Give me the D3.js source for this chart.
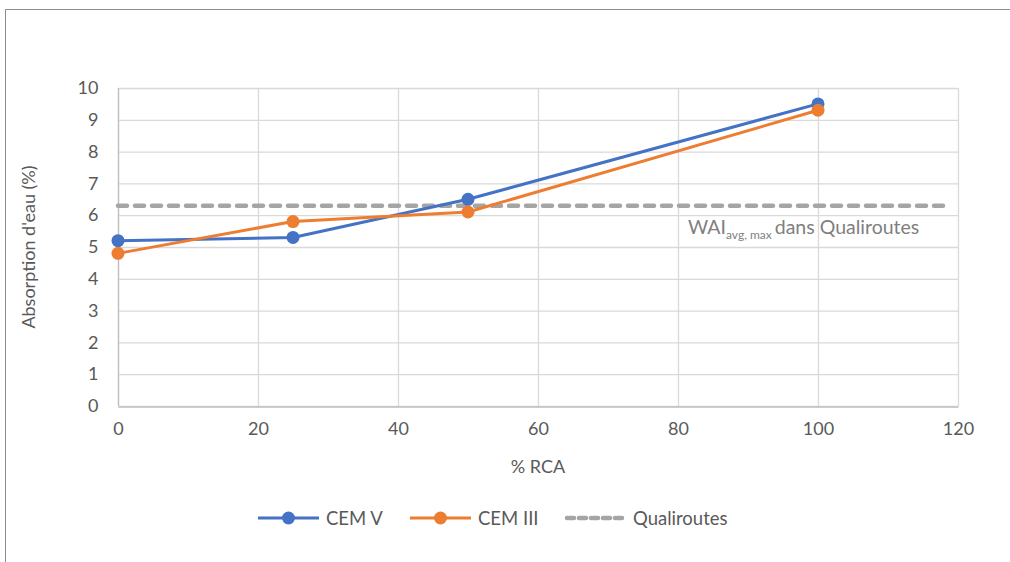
<!DOCTYPE html>
<html>
<head>
<meta charset="utf-8">
<script src="https://cdn.jsdelivr.net/npm/d3@7"></script>
<style>
  html, body { margin: 0; padding: 0; background: #fff; }
  svg { display: block; font-family: Lato, "Open Sans", sans-serif; }
</style>
</head>
<body>
<svg id="chart" width="1010" height="562"></svg>
<script>
// Water absorption vs. recycled aggregate content
const rcaPercent = [0, 25, 50, 100];
const cemV = [5.2, 5.3, 6.5, 9.5];
const cemIII = [4.8, 5.8, 6.1, 9.3];
const qualiroutesX = [0, 119];
const qualiroutesY = [6.3, 6.3];
const xTicks = [0, 20, 40, 60, 80, 100, 120];
const yTicks = [0, 1, 2, 3, 4, 5, 6, 7, 8, 9, 10];
const seriesNames = ["CEM V", "CEM III", "Qualiroutes"];

const colors = { cemV: "#4472C4", cemIII: "#ED7D31", quali: "#A5A5A5" };
const textColor = "#595959";
const fontSize = "18px";

const svg = d3.select("#chart");

// outer frame
svg.append("path")
  .attr("d", "M5.5,562 L5.5,9.5 L1010,9.5")
  .attr("fill", "none").attr("stroke", "#8c8c8c").attr("stroke-width", 1);

const plot = { left: 118, right: 958, top: 88, bottom: 406 };
const x = d3.scaleLinear().domain([0, 120]).range([plot.left, plot.right]);
const y = d3.scaleLinear().domain([0, 10]).range([plot.bottom, plot.top]);

// gridlines
const grid = svg.append("g");
grid.selectAll("line.h").data(yTicks).enter().append("line")
  .attr("x1", plot.left).attr("x2", plot.right)
  .attr("y1", d => y(d) + 0.5).attr("y2", d => y(d) + 0.5)
  .attr("stroke", "#d9d9d9").attr("stroke-width", 1.3);
grid.selectAll("line.v").data(xTicks).enter().append("line")
  .attr("y1", plot.top).attr("y2", plot.bottom)
  .attr("x1", d => x(d) + 0.5).attr("x2", d => x(d) + 0.5)
  .attr("stroke", "#d9d9d9").attr("stroke-width", 1.3);

// axes
const xAxis = svg.append("g")
  .attr("transform", `translate(0,${plot.bottom + 0.5})`)
  .call(d3.axisBottom(x).tickValues(xTicks).tickSize(0).tickPadding(16));
const yAxis = svg.append("g")
  .attr("transform", `translate(${plot.left + 0.5},0)`)
  .call(d3.axisLeft(y).tickValues(yTicks).tickSize(0).tickPadding(20));
[xAxis, yAxis].forEach(a => {
  a.select(".domain").attr("stroke", "#bfbfbf").attr("stroke-width", 1.3);
  a.selectAll("text").attr("fill", textColor).style("font-size", fontSize)
    .style("font-family", "Lato, 'Open Sans', sans-serif");
});
yAxis.select(".domain").remove();
svg.append("line")
  .attr("x1", plot.left + 0.5).attr("x2", plot.left + 0.5)
  .attr("y1", plot.top).attr("y2", plot.bottom)
  .attr("stroke", "#bfbfbf").attr("stroke-width", 1.3);

// axis titles
svg.append("text")
  .attr("x", (plot.left + plot.right) / 2).attr("y", 473)
  .attr("text-anchor", "middle").attr("fill", textColor)
  .style("font-size", fontSize).text("% RCA");
svg.append("text")
  .attr("transform", `translate(35,${(plot.top + plot.bottom) / 2}) rotate(-90)`)
  .attr("text-anchor", "middle").attr("fill", textColor)
  .style("font-size", fontSize).text("Absorption d'eau (%)");

// reference line
const qData = qualiroutesX.map((d, i) => [d, qualiroutesY[i]]);
svg.append("path")
  .datum(qData)
  .attr("d", d3.line().x(d => x(d[0])).y(d => y(d[1])))
  .attr("fill", "none").attr("stroke", colors.quali)
  .attr("stroke-width", 4.5).attr("stroke-dasharray", "9,8")
  .attr("stroke-linecap", "round");

// reference label
const lbl = svg.append("text")
  .attr("x", 688).attr("y", 234)
  .attr("fill", "#7f7f7f").style("font-size", "19.5px");
lbl.append("tspan").text("WAI");
lbl.append("tspan").attr("dy", 5).style("font-size", "12px").text("avg, max");
lbl.append("tspan").attr("dy", -5).attr("dx", 3).text("dans Qualiroutes");

// data series
function drawSeries(values, color) {
  const pts = rcaPercent.map((d, i) => [d, values[i]]);
  svg.append("path").datum(pts)
    .attr("d", d3.line().x(d => x(d[0])).y(d => y(d[1])))
    .attr("fill", "none").attr("stroke", color).attr("stroke-width", 3)
    .attr("stroke-linejoin", "round");
  svg.append("g").selectAll("circle").data(pts).enter().append("circle")
    .attr("cx", d => x(d[0])).attr("cy", d => y(d[1])).attr("r", 6.5)
    .attr("fill", color);
}
drawSeries(cemV, colors.cemV);
drawSeries(cemIII, colors.cemIII);

// legend
const legendY = 518;
const legendX = [258, 410, 565];
const legendColors = [colors.cemV, colors.cemIII, colors.quali];
seriesNames.forEach((name, i) => {
  const g = svg.append("g").attr("transform", `translate(${legendX[i]},${legendY})`);
  if (i < 2) {
    g.append("line").attr("x1", 0).attr("x2", 61).attr("y1", 0).attr("y2", 0)
      .attr("stroke", legendColors[i]).attr("stroke-width", 3);
    g.append("circle").attr("cx", 30.5).attr("cy", 0).attr("r", 6.5).attr("fill", legendColors[i]);
  } else {
    g.append("line").attr("x1", 2).attr("x2", 59).attr("y1", 0).attr("y2", 0)
      .attr("stroke", legendColors[i]).attr("stroke-width", 4.5)
      .attr("stroke-dasharray", "7,5").attr("stroke-linecap", "round");
  }
  g.append("text").attr("x", 68).attr("y", 6.5)
    .attr("fill", textColor).style("font-size", "18.5px").text(name);
});
</script>
</body>
</html>
